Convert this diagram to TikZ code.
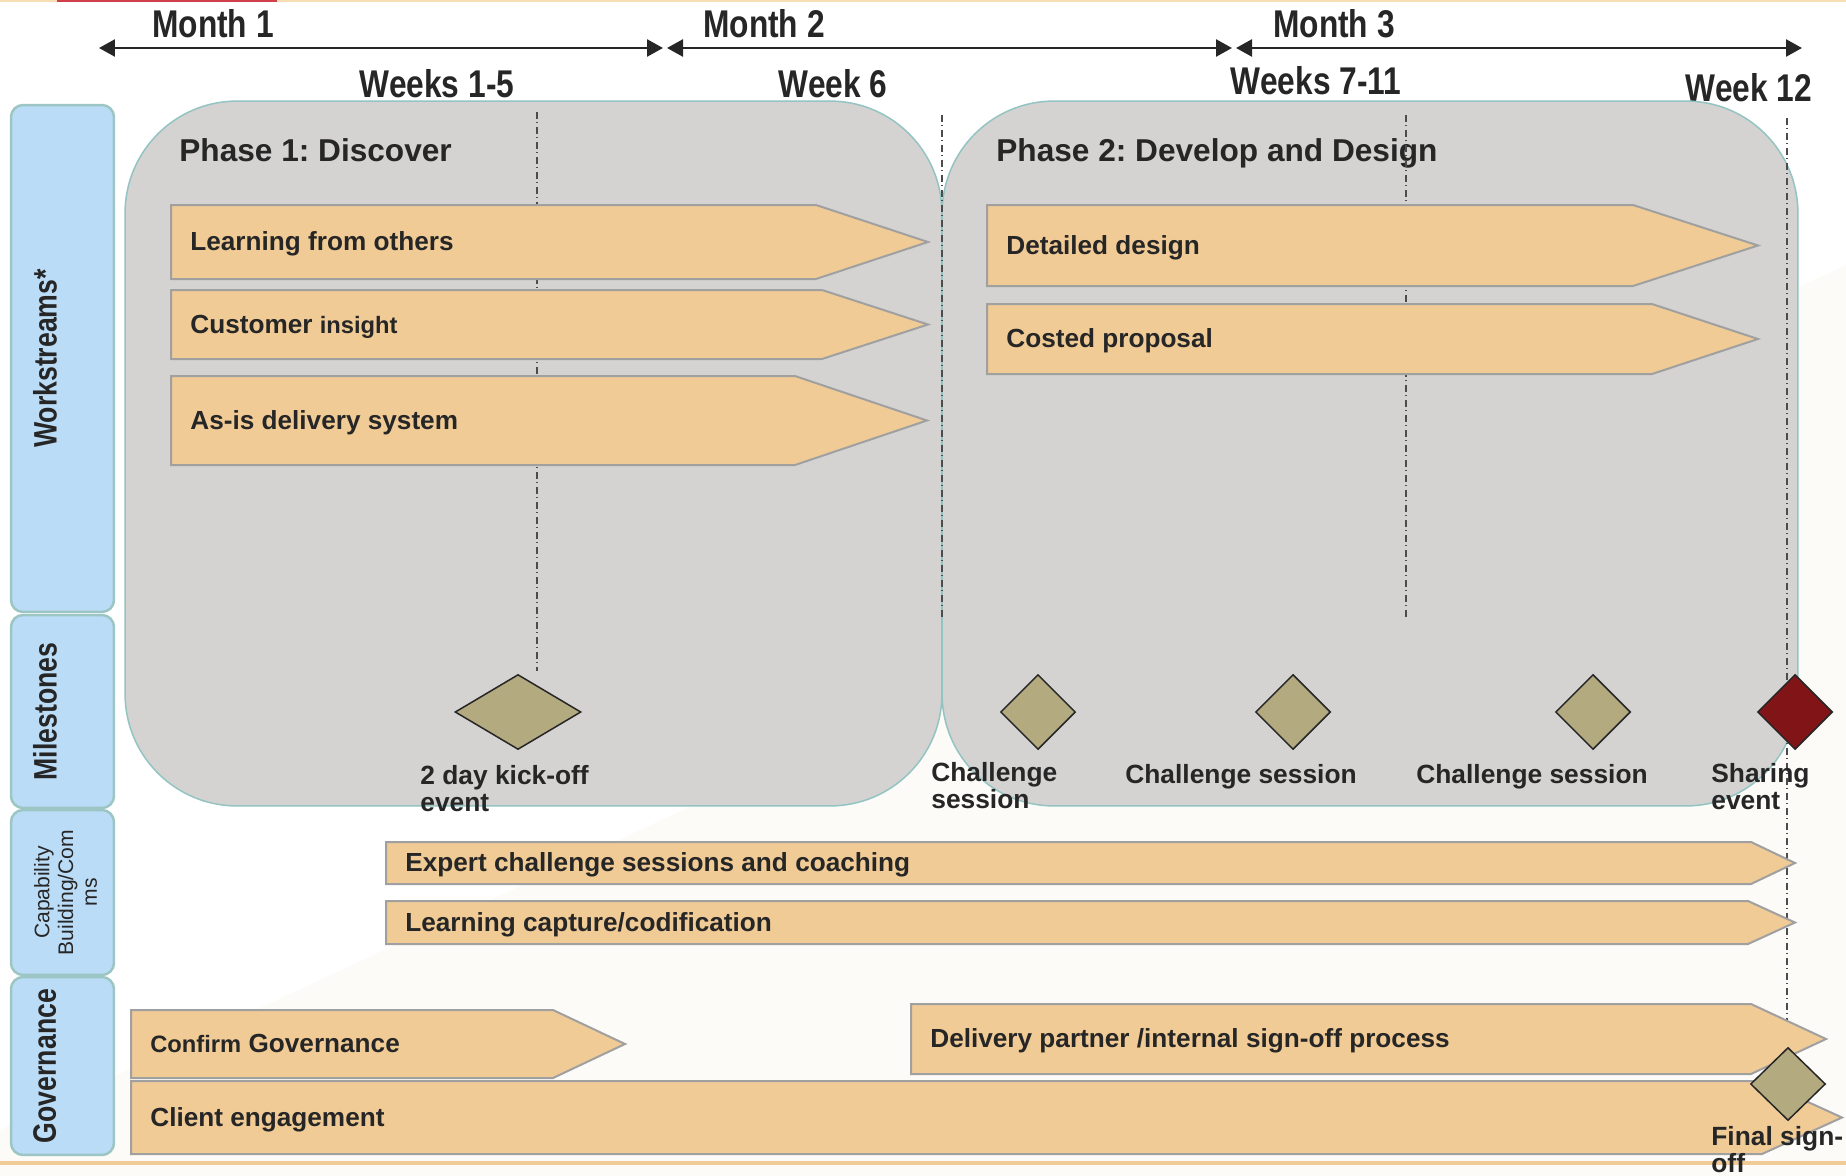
\documentclass[tikz,border=0pt]{standalone}
\usepackage{fontspec}
\setmainfont{Liberation Sans}
\newfontfamily\narrowfont[FakeStretch=0.82]{Liberation Sans}
\usetikzlibrary{arrows.meta,shapes.geometric,positioning}
\frenchspacing

\definecolor{barFill}{HTML}{F0CB96}
\definecolor{barEdge}{HTML}{A0A0A0}
\definecolor{phaseFill}{HTML}{D4D3D2}
\definecolor{phaseEdge}{HTML}{93C4C2}
\definecolor{sideFill}{HTML}{BBDCF7}
\definecolor{sideEdge}{HTML}{9CC6C4}
\definecolor{msFill}{HTML}{B3AA80}
\definecolor{msRed}{HTML}{801416}
\definecolor{inkDark}{HTML}{262626}
\definecolor{paperTint}{HTML}{FCFBF7}
\definecolor{topLine}{HTML}{F7DFB3}
\definecolor{topRed}{HTML}{D0404C}

% bar with a pointed end: name, x1, y1, x2 (tip), y2, shoulder x, text
\newcommand{\taskbar}[7]{%
  \draw[bar] (#2,#3) -- (#6,#3) -- (#4,{(#3+#5)/2}) -- (#6,#5) -- (#2,#5) -- cycle;
  \node[bartext] (#1) at (#2+19,{(#3+#5)/2+8.5}) {#7};}

\begin{document}
\begin{tikzpicture}[
  x=0.02cm, y=-0.02cm,
  bar/.style={fill=barFill, draw=barEdge, line width=0.04cm},
  bartext/.style={anchor=base west, inner sep=0, text=inkDark, font=\bfseries\fontsize{14.9}{15.5}\selectfont},
  phase/.style={rectangle, rounded corners=2.24cm, fill=phaseFill, draw=phaseEdge, line width=0.03cm, inner sep=0, minimum height=14.1cm},
  sidebox/.style={rectangle, rounded corners=0.24cm, fill=sideFill, draw=sideEdge, line width=0.05cm, inner sep=0, rotate=90, minimum height=2.06cm},
  sidelabel/.style={rotate=90, anchor=north, inner sep=0, text=inkDark, font=\narrowfont\bfseries\fontsize{18.5}{20}\selectfont},
  timeline/.style={{Triangle[length=0.32cm,width=0.34cm]}-{Triangle[length=0.32cm,width=0.34cm]}, line width=0.05cm, draw=inkDark, shorten <=0.04cm, shorten >=0.04cm},
  period/.style={anchor=base, inner sep=0, text=inkDark, font=\narrowfont\bfseries\fontsize{22}{24}\selectfont},
  phasetitle/.style={anchor=base west, inner sep=0, text=inkDark, font=\bfseries\fontsize{18}{20}\selectfont},
  weekline/.style={draw=black!70, line width=0.025cm, dash pattern=on 0.14cm off 0.07cm on 0.02cm off 0.07cm},
  milestone/.style={diamond, fill=msFill, draw=inkDark, line width=0.03cm, inner sep=0, minimum width=1.5cm, minimum height=1.5cm},
  mslabel/.style={inner sep=0, align=left, text=inkDark, font=\bfseries\fontsize{15}{15.5}\selectfont}
]
\useasboundingbox (0,0) rectangle (1846,1176);
\fill[white] (0,0) rectangle (1846,1176);
\fill[paperTint] (0,1130) -- (1846,265) -- (1846,1176) -- (0,1176) -- cycle;
\fill[topLine] (0,0) rectangle (1846,2.5);
\fill[topRed] (57,0) rectangle (277,2.5);
\fill[barFill] (0,1161) rectangle (1846,1165);

% time axis
\coordinate (m0) at (97,48);
\coordinate (m1) at (665,48);
\coordinate (m2) at (1234,48);
\coordinate (m3) at (1804,48);
\draw[timeline] (m0) -- (m1);
\draw[timeline] (m1) -- (m2);
\draw[timeline] (m2) -- (m3);
\node[period] (monthOne) at (213,38) {Month 1};
\node[period] (monthTwo) at (764,38) {Month 2};
\node[period] (monthThree) at (1334,38) {Month 3};
\node[period] (weekA) at (437,98) {Weeks 1-5};
\node[period] (weekB) at (833,98) {Week 6};
\node[period] (weekC) at (1316,94) {Weeks 7-11};
\node[period] (weekD) at (1749,102) {Week 12};

% row headers
\node[sidebox, minimum width=10.14cm] (wsBox) at (62.5,358.5) {};
\node[sidebox, minimum width=3.86cm] (msBox) at (62.5,711.5) {};
\node[sidebox, minimum width=3.3cm] (cbBox) at (62.5,892.5) {};
\node[sidebox, minimum width=3.56cm] (gvBox) at (62.5,1066) {};
\node[sidelabel] (wsLabel) at ([xshift=0.46cm]wsBox.north) {Workstreams*};
\node[sidelabel] (msLabel) at ([xshift=0.46cm]msBox.north) {Milestones};
\node[sidelabel, align=center, font=\fontsize{12}{13.5}\selectfont] (cbLabel) at ([xshift=0.48cm]cbBox.north) {Capability\\Building/Com\\ms};
\node[sidelabel] (gvLabel) at ([xshift=0.46cm]gvBox.north) {Governance};

% phases
\node[phase, minimum width=16.34cm] (phaseOne) at (533.5,453.5) {};
\node[phase, minimum width=17.12cm] (phaseTwo) at (1370,453.5) {};
\node[phasetitle] (phaseOneTitle) at (179,161) {Phase 1: Discover};
\node[phasetitle] (phaseTwoTitle) at (996,161) {Phase 2: Develop and Design};

% week markers
\draw[weekline] (537,112) -- (537,671);
\draw[weekline] (942,115) -- (942,618);
\draw[weekline] (1406,115) -- (1406,618);
\draw[weekline] (1787,118) -- (1787,1030);

% workstreams
\taskbar{learnOthers}{171}{205}{928}{279}{816}{Learning from others}
\taskbar{custInsight}{171}{290}{928}{359}{822}{Customer {\fontsize{13.5}{15}\selectfont insight}}
\taskbar{asIs}{171}{376}{927}{465}{795}{As-is delivery system}
\taskbar{detDesign}{987}{205}{1758}{286}{1633}{Detailed design}
\taskbar{costProp}{987}{304}{1758}{374}{1652}{Costed proposal}

% capability building
\taskbar{expertCh}{386}{842}{1795}{884}{1751}{Expert challenge sessions and coaching}
\taskbar{learnCap}{386}{901}{1795}{944}{1748}{Learning capture/codification}

% governance
\taskbar{clientEng}{131}{1081}{1842}{1154}{1762}{Client engagement}
\taskbar{confirmGov}{131}{1010}{625}{1078}{553}{{\fontsize{13.5}{15}\selectfont Confirm} Governance}
\taskbar{deliverySign}{911}{1004}{1826}{1074}{1751}{Delivery partner /internal sign-off process}

% milestones
\node[milestone, minimum width=2.52cm] (kickoff) at (518,712) {};
\node[milestone] (chalOne) at (1038,712) {};
\node[milestone] (chalTwo) at (1293,712) {};
\node[milestone] (chalThree) at (1593,712) {};
\node[milestone, fill=msRed] (sharing) at (1795,712) {};
\node[milestone, minimum height=1.46cm] (signoff) at (1788,1084) {};

\node[mslabel, anchor=north west] (kickoffText) at (420,765) {2 day kick-off\\event};
\node[mslabel, anchor=north west] (chalOneText) at (931,762) {Challenge\\session};
\node[mslabel, below=0.27cm of chalTwo.south, xshift=-1.04cm] (chalTwoText) {Challenge session};
\node[mslabel, below=0.27cm of chalThree.south, xshift=-1.22cm] (chalThreeText) {Challenge session};
\node[mslabel, anchor=north west] (sharingText) at (1711,763) {Sharing\\event};
\node[mslabel, anchor=north west] (signoffText) at (1711,1126) {Final sign-\\off};
\end{tikzpicture}
\end{document}
